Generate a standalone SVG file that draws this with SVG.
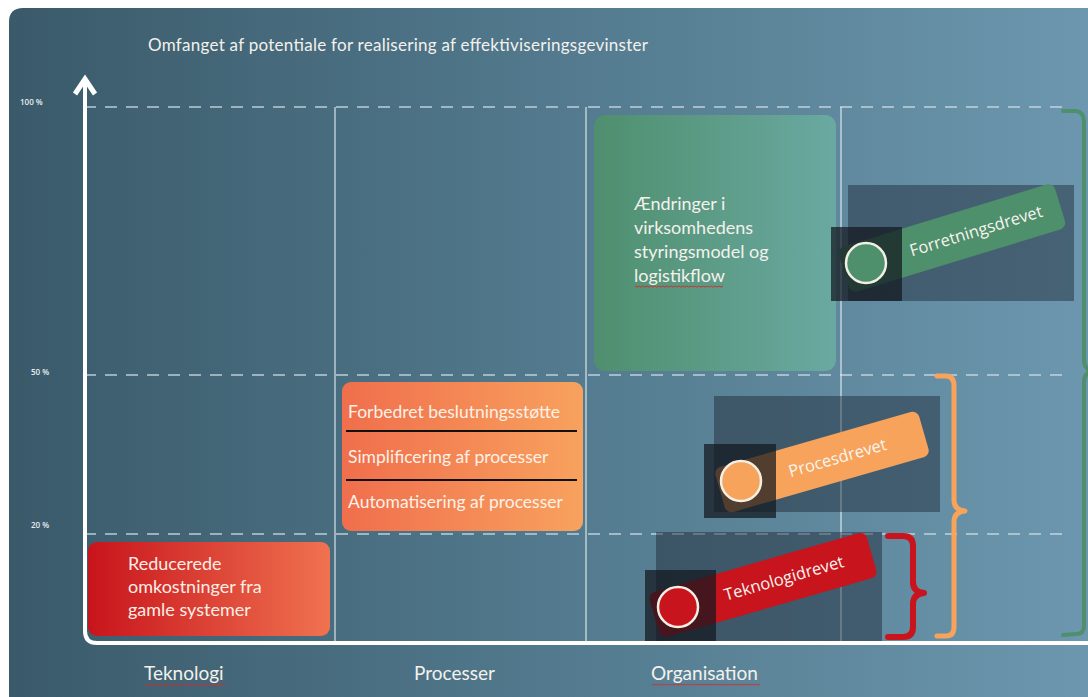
<svg xmlns="http://www.w3.org/2000/svg" width="1088" height="697" viewBox="0 0 1088 697">
  <defs>
    <linearGradient id="bg" x1="0" y1="0" x2="1" y2="0">
      <stop offset="0" stop-color="#3a5a6a"/>
      <stop offset="0.5" stop-color="#52798d"/>
      <stop offset="1" stop-color="#6c97ae"/>
    </linearGradient>
    <linearGradient id="gGreen" x1="0" y1="0" x2="1" y2="0">
      <stop offset="0" stop-color="#4f8f6e"/>
      <stop offset="1" stop-color="#6aa9a1"/>
    </linearGradient>
    <linearGradient id="gOrange" x1="0" y1="0" x2="1" y2="0">
      <stop offset="0" stop-color="#f06e4c"/>
      <stop offset="1" stop-color="#f8a25e"/>
    </linearGradient>
    <linearGradient id="gRed" x1="0" y1="0" x2="1" y2="0">
      <stop offset="0" stop-color="#c8141c"/>
      <stop offset="1" stop-color="#f07250"/>
    </linearGradient>
  </defs>
  <style>
    .lbl { font-family: Lato, "Open Sans", sans-serif; fill: #f4f1ec; }
    .pct { font-family: "Open Sans", sans-serif; font-size: 8px; font-weight: 600; fill: #e8eef2; }
    .dash { stroke: #cfe0e8; stroke-width: 1.6; stroke-dasharray: 12 9; opacity: 0.85; }
    .col { stroke: #e6eef2; stroke-width: 1.3; opacity: 0.85; }
    .big { fill: #1a2430; opacity: 0.45; }
    .small { fill: #12181e; opacity: 0.72; }
    .dot { stroke: #f3efe4; stroke-width: 2.5; }
    .pilltext { font-family: "Open Sans", sans-serif; font-size: 16.5px; fill: #f8f5f0; text-anchor: middle; }
    .brace { fill: none; stroke-linecap: round; stroke-linejoin: round; }
    .spell { fill: none; stroke: #d42a2a; stroke-width: 0.9; }
  </style>

  <!-- panel background -->
  <rect width="1088" height="697" fill="#ffffff"/>
  <path d="M9 22 Q9 8 23 8 L1088 8 L1088 697 L9 697 Z" fill="url(#bg)"/>

  <!-- title -->
  <text class="lbl" x="148" y="51" font-size="17" textLength="500" lengthAdjust="spacing">Omfanget af potentiale for realisering af effektiviseringsgevinster</text>

  <!-- grid -->
  <g id="grid">
    <line class="dash" x1="84" y1="107" x2="1062" y2="107"/>
    <line class="dash" x1="84" y1="375" x2="1062" y2="375"/>
    <line class="dash" x1="84" y1="534" x2="1062" y2="534"/>
    <line class="col" x1="335" y1="107" x2="335" y2="641"/>
    <line class="col" x1="586" y1="107" x2="586" y2="641"/>
    <line class="col" x1="841" y1="107" x2="841" y2="641"/>
    <text class="pct" x="20" y="105">100 %</text>
    <text class="pct" x="31" y="375">50 %</text>
    <text class="pct" x="31" y="528">20 %</text>
  </g>

  <!-- axes -->
  <g id="axes" fill="none" stroke="#ffffff">
    <path d="M85 82 L85 631 Q85 643 97 643 L1088 643" stroke-width="4"/>
    <polyline points="75,94 85,79 95,94" stroke-width="5" stroke-linejoin="miter" stroke-linecap="butt"/>
  </g>

  <!-- category boxes -->
  <g id="box-organisation">
    <rect x="594" y="115" width="242" height="256" rx="11" fill="url(#gGreen)"/>
    <text class="lbl" font-size="18">
      <tspan x="634" y="210">Ændringer i</tspan>
      <tspan x="634" y="234">virksomhedens</tspan>
      <tspan x="634" y="258">styringsmodel og</tspan>
      <tspan x="634" y="282">logistikflow</tspan>
    </text>
    <path class="spell" d="M635 286 l2 1.2 l2 -1.2 l2 1.2 l2 -1.2 l2 1.2 l2 -1.2 l2 1.2 l2 -1.2 l2 1.2 l2 -1.2 l2 1.2 l2 -1.2 l2 1.2 l2 -1.2 l2 1.2 l2 -1.2 l2 1.2 l2 -1.2 l2 1.2 l2 -1.2 l2 1.2 l2 -1.2 l2 1.2 l2 -1.2 l2 1.2 l2 -1.2 l2 1.2 l2 -1.2 l2 1.2 l2 -1.2 l2 1.2 l2 -1.2 l2 1.2 l2 -1.2 l2 1.2 l2 -1.2 l2 1.2 l2 -1.2 l2 1.2 l2 -1.2 l2 1.2 l2 -1.2 l2 1.2 l2 -1.2"/>
  </g>

  <g id="box-processer">
    <rect x="342" y="382" width="241" height="149" rx="9" fill="url(#gOrange)"/>
    <line x1="346" y1="431" x2="577" y2="431" stroke="#111" stroke-width="2"/>
    <line x1="346" y1="480" x2="577" y2="480" stroke="#111" stroke-width="2"/>
    <text class="lbl" font-size="17.5" style="fill:#fdf1e8">
      <tspan x="348" y="418">Forbedret beslutningsstøtte</tspan>
      <tspan x="348" y="463">Simplificering af processer</tspan>
      <tspan x="348" y="508">Automatisering af processer</tspan>
    </text>
  </g>

  <g id="box-teknologi">
    <rect x="88" y="542" width="242" height="94" rx="9" fill="url(#gRed)"/>
    <text class="lbl" font-size="18" style="fill:#fbeee6">
      <tspan x="128" y="570">Reducerede</tspan>
      <tspan x="128" y="593">omkostninger fra</tspan>
      <tspan x="128" y="616">gamle systemer</tspan>
    </text>
  </g>

  <!-- driver markers -->
  <g id="forretningsdrevet">
    <rect class="big" x="848" y="185" width="226" height="116"/>
    <g transform="translate(952 238) rotate(-17)">
      <rect x="-113" y="-23.5" width="226" height="47" rx="7" fill="#4e8f6c"/>
      <text class="pilltext" x="25" y="6">Forretningsdrevet</text>
    </g>
    <rect class="small" x="831" y="227" width="71" height="74"/>
    <circle class="dot" cx="866" cy="263" r="20" fill="#4e8f6c"/>
  </g>

  <g id="procesdrevet">
    <rect class="big" x="714" y="396" width="226" height="116"/>
    <g transform="translate(822 462) rotate(-16)">
      <rect x="-106" y="-23.5" width="212" height="47" rx="7" fill="#f7a35c"/>
      <text class="pilltext" x="16" y="6">Procesdrevet</text>
    </g>
    <rect class="small" x="704" y="444" width="72" height="74"/>
    <circle class="dot" cx="741" cy="481" r="20" fill="#f7a35c"/>
  </g>

  <g id="teknologidrevet">
    <rect class="big" x="656" y="532" width="226" height="109"/>
    <g transform="translate(763 585) rotate(-16)">
      <rect x="-113" y="-23.5" width="226" height="47" rx="7" fill="#c8141c"/>
      <text class="pilltext" x="22" y="5">Teknologidrevet</text>
    </g>
    <rect class="small" x="645" y="570" width="71" height="71"/>
    <circle class="dot" cx="678" cy="607" r="20" fill="#c8141c"/>
  </g>

  <!-- braces -->
  <g id="braces">
    <path class="brace" stroke="#c8141c" stroke-width="6" d="M888 536 L903 536 Q913 536 913 546 L913 582 Q913 592 924 593 Q913 594 913 604 L913 627 Q913 637 903 637 L888 637"/>
    <path class="brace" stroke="#f7a35c" stroke-width="5" d="M937 376 L946 376 Q954 376 954 386 L954 500 Q954 510 965 511 Q954 512 954 522 L954 627 Q954 636 946 636 L937 636"/>
    <path class="brace" stroke="#4e8f6c" stroke-width="4" d="M1063 111 L1076 111 Q1084 112 1084 122 L1084 360 Q1084 370 1094 371 Q1084 372 1084 382 L1084 626 Q1084 634 1076 634 L1063 635"/>
  </g>

  <!-- axis categories -->
  <g id="categories">
    <text class="lbl" font-size="19" x="144" y="680">Teknologi</text>
    <text class="lbl" font-size="19" x="414" y="680">Processer</text>
    <text class="lbl" font-size="19" x="651" y="680">Organisation</text>
    <path class="spell" d="M145 684 l2 1.2 l2 -1.2 l2 1.2 l2 -1.2 l2 1.2 l2 -1.2 l2 1.2 l2 -1.2 l2 1.2 l2 -1.2 l2 1.2 l2 -1.2 l2 1.2 l2 -1.2 l2 1.2 l2 -1.2 l2 1.2 l2 -1.2 l2 1.2 l2 -1.2 l2 1.2 l2 -1.2 l2 1.2 l2 -1.2 l2 1.2 l2 -1.2 l2 1.2 l2 -1.2 l2 1.2 l2 -1.2 l2 1.2 l2 -1.2 l2 1.2 l2 -1.2 l2 1.2 l2 -1.2 l2 1.2 l2 -1.2 l2 1.2 l2 -1.2"/>
    <path class="spell" d="M652 684 l2 1.2 l2 -1.2 l2 1.2 l2 -1.2 l2 1.2 l2 -1.2 l2 1.2 l2 -1.2 l2 1.2 l2 -1.2 l2 1.2 l2 -1.2 l2 1.2 l2 -1.2 l2 1.2 l2 -1.2 l2 1.2 l2 -1.2 l2 1.2 l2 -1.2 l2 1.2 l2 -1.2 l2 1.2 l2 -1.2 l2 1.2 l2 -1.2 l2 1.2 l2 -1.2 l2 1.2 l2 -1.2 l2 1.2 l2 -1.2 l2 1.2 l2 -1.2 l2 1.2 l2 -1.2 l2 1.2 l2 -1.2 l2 1.2 l2 -1.2 l2 1.2 l2 -1.2 l2 1.2 l2 -1.2 l2 1.2 l2 -1.2 l2 1.2 l2 -1.2 l2 1.2 l2 -1.2 l2 1.2 l2 -1.2 l2 1.2 l2 -1.2"/>
  </g>
</svg>
